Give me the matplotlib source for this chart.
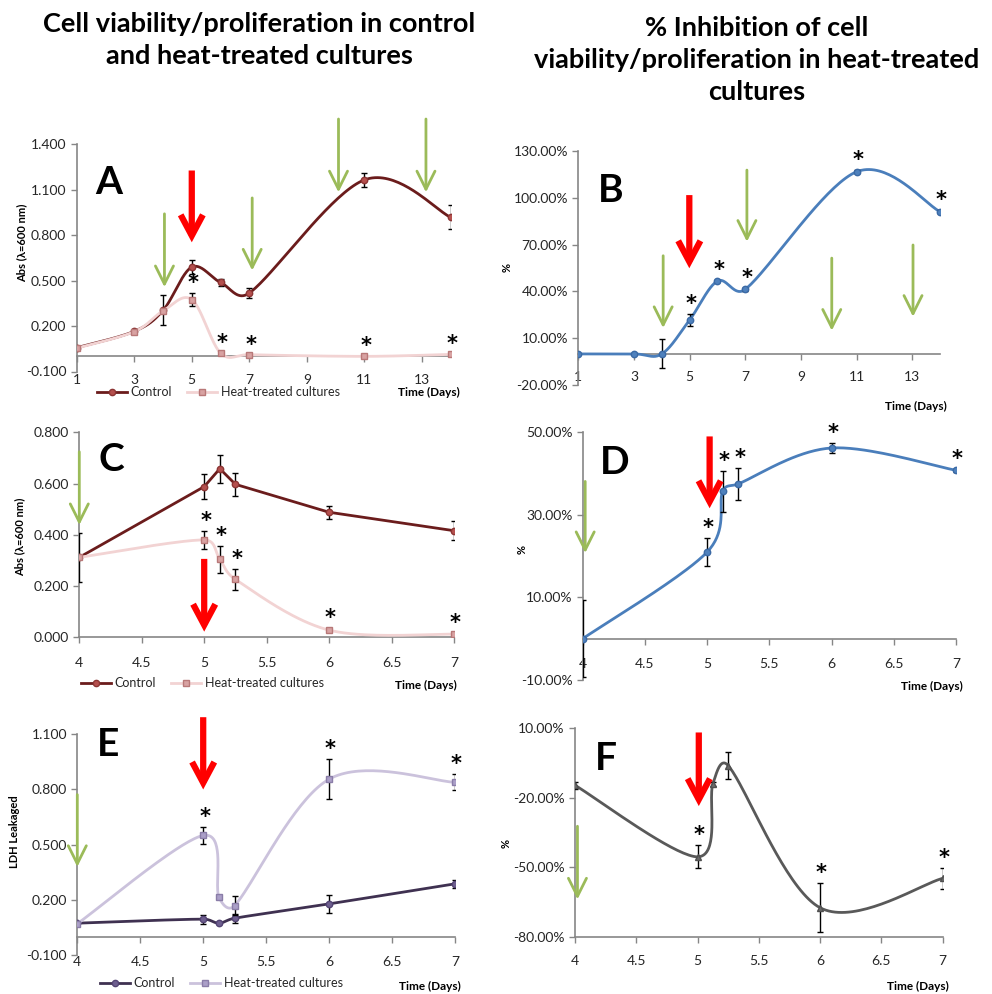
import numpy as np
import matplotlib
matplotlib.use("Agg")
from matplotlib import pyplot as plt
from matplotlib.lines import Line2D
from matplotlib.ticker import FuncFormatter

plt.rcParams['font.family'] = ['Lato', 'DejaVu Sans']

# ---- data ----
# panel A / B : days 1-14
ab_days = [1, 3, 4, 5, 6, 7, 11, 14]
a_control = [0.057, 0.165, 0.303, 0.589, 0.488, 0.418, 1.165, 0.918]
a_control_err = [0, 0, 0.099, 0.048, 0.024, 0.035, 0.045, 0.079]
a_heat = [0.054, 0.163, 0.300, 0.375, 0.022, 0.011, 0.0, 0.013]
a_heat_err = [0, 0, 0, 0.044, 0, 0, 0, 0]
a_stars = [0, 0, 0, 1, 1, 1, 1, 1]

b_inhib = [0, 0, 0, 21.7, 46.6, 41.3, 116.5, 91.0]
b_err = [0, 0, 9.3, 3.7, 0.8, 0.8, 1.0, 0.8]
b_stars = [0, 0, 0, 1, 1, 1, 1, 1]

# panels C-F : days 4-7
cf_days = [4, 5, 5.125, 5.25, 6, 7]
c_control = [0.312, 0.588, 0.658, 0.597, 0.488, 0.416]
c_control_err = [0.096, 0.048, 0.054, 0.045, 0.026, 0.036]
c_heat = [0.312, 0.380, 0.304, 0.226, 0.028, 0.012]
c_heat_err = [0, 0.036, 0.052, 0.040, 0.008, 0.004]
c_stars = [0, 1, 1, 1, 1, 1]

d_inhib = [0, 21.0, 35.7, 37.5, 46.2, 40.8]
d_err = [9.3, 3.5, 5.0, 3.9, 1.3, 0.4]
d_stars = [0, 1, 1, 1, 1, 1]

e_control = [0.073, 0.095, 0.073, 0.100, 0.178, 0.287]
e_control_err = [0, 0.025, 0.005, 0.024, 0.047, 0.023]
e_heat = [0.070, 0.550, 0.215, 0.169, 0.856, 0.839]
e_heat_err = [0, 0.048, 0.010, 0.050, 0.107, 0.044]
e_stars = [0, 1, 0, 0, 1, 1]

f_inhib = [-14.6, -45.5, -14.0, -6.1, -67.5, -54.8]
f_err = [1.5, 4.9, 1.0, 5.8, 10.6, 4.5]
f_stars = [0, 1, 0, 0, 1, 1]

# annotation arrows (day, y tail, y tip)
a_red = [(5.0, 1.227, 0.753)]
a_green = [(4.05, 0.941, 0.457), (7.1, 1.046, 0.567), (10.1, 1.567, 1.083), (13.14, 1.567, 1.083)]
b_red = [(4.99, 101.6, 54.8)]
b_green = [(4.05, 62.8, 16.6), (7.06, 117.6, 71.8), (10.11, 61.3, 14.9), (13.03, 69.7, 23.8)]
c_red = [(5.0, 0.306, 0.022)]
c_green = [(4.0, 0.724, 0.438), (7.02, 0.841, 0.497)]
d_red = [(5.02, 49.0, 31.6)]
d_green = [(4.02, 38.1, 20.75), (7.02, 27.6, 6.6)]
e_red = [(5.0, 1.193, 0.80)]
e_green = [(4.0, 0.772, 0.379)]
f_red = [(5.01, 8.2, -23.6)]
f_green = [(4.02, -32.3, -63.9)]

W, H = 992, 994
fig = plt.figure(figsize=(W / 100, H / 100), dpi=100)

GREY = '#868686'
TXT = '#262626'
RED = '#ff0000'
GREEN = '#9bbb59'


def px(x, y):
    return x / W, 1 - y / H


def make_ax(l, t, r, b):
    return fig.add_axes([l / W, 1 - b / H, (r - l) / W, (b - t) / H])


def style(ax, xlim, ylim, xticks, yticks, yfmt, zero_axis, pad):
    ax.set_xlim(*xlim)
    ax.set_ylim(*ylim)
    ax.set_xticks(xticks)
    ax.set_yticks(yticks)
    ax.patch.set_alpha(0)
    for s in ['top', 'right']:
        ax.spines[s].set_visible(False)
    for s in ['left', 'bottom']:
        ax.spines[s].set_color(GREY)
        ax.spines[s].set_linewidth(1.2)
    if zero_axis:
        ax.spines['bottom'].set_position(('data', 0))
    ax.tick_params(direction='out', length=4, width=1, color=GREY,
                   labelsize=10, labelcolor=TXT)
    ax.tick_params(axis='x', pad=pad)
    ax.yaxis.set_major_formatter(FuncFormatter(yfmt))
    ax.xaxis.set_major_formatter(FuncFormatter(lambda v, p: '%g' % v))


def _tan(a, b, seg):
    # Catmull-Rom tangent, limited so short segments do not overshoot much
    t = (b - a) / 6
    n = np.hypot(*t)
    lim = 0.5 * seg
    if n > lim and n > 0:
        t = t * lim / n
    return t


def smooth(ax, x, y, n=40):
    pts = ax.transData.transform(np.column_stack([x, y]))
    P = np.vstack([pts[0], pts, pts[-1]])
    segs = []
    t = np.linspace(0, 1, n)[:, None]
    for i in range(1, len(P) - 2):
        p0, p1, p2, p3 = P[i - 1], P[i], P[i + 1], P[i + 2]
        seg = np.hypot(*(p2 - p1))
        c1 = p1 + _tan(p0, p2, seg)
        c2 = p2 - _tan(p1, p3, seg)
        segs.append((1 - t) ** 3 * p1 + 3 * (1 - t) ** 2 * t * c1
                    + 3 * (1 - t) * t ** 2 * c2 + t ** 3 * p2)
    c = ax.transData.inverted().transform(np.vstack(segs))
    return c[:, 0], c[:, 1]


def series(ax, x, y, err, line, mfc, mec, marker, curved=True, z=3):
    if curved:
        sx, sy = smooth(ax, x, y)
    else:
        sx, sy = x, y
    ax.plot(sx, sy, color=line, lw=2, zorder=z, solid_capstyle='round')
    ax.errorbar(x, y, yerr=err, fmt='none', ecolor='black', elinewidth=1,
                capsize=2.3, capthick=1, zorder=z + 1)
    ax.plot(x, y, ls='none', marker=marker, ms=4.6, mfc=mfc, mec=mec,
            mew=1, zorder=z + 2)


def stars(ax, x, y, err, flags):
    for xi, yi, ei, f in zip(x, y, err, flags):
        if f:
            ax.annotate('*', (xi, yi + ei), xytext=(1, 0), textcoords='offset points',
                        ha='center', va='bottom', fontsize=15, fontweight='bold',
                        color='black', family='DejaVu Sans', zorder=10)


def arrows(ax, reds, greens):
    for x, y0, y1 in greens:
        ax.annotate('', xy=(x, y1), xytext=(x, y0),
                    arrowprops=dict(arrowstyle='->,head_length=1.3,head_width=0.65',
                                    color=GREEN, lw=2, shrinkA=0, shrinkB=0,
                                    clip_on=False, mutation_scale=10), zorder=8)
    for x, y0, y1 in reds:
        ax.annotate('', xy=(x, y1), xytext=(x, y0),
                    arrowprops=dict(arrowstyle='->,head_length=1.5,head_width=0.8',
                                    color=RED, lw=4.5, shrinkA=0, shrinkB=0,
                                    joinstyle='miter', capstyle='butt',
                                    clip_on=False, mutation_scale=10), zorder=8)


def letter(x, y, s):
    fig.text(*px(x, y), s, ha='center', va='center', fontsize=28,
             fontweight='bold', color='black')


def ylab(x, y, s):
    fig.text(*px(x, y), s, ha='center', va='center', rotation=90,
             fontsize=8, fontweight='bold', color='black')


def timelab(x, y):
    fig.text(*px(x, y), 'Time (Days)', ha='right', va='center', fontsize=8.5,
             fontweight='bold', color='black')


def legend(x, y, ctrl, heat):
    h = [Line2D([], [], color=ctrl[0], lw=2, marker=ctrl[3], ms=4.5, mfc=ctrl[1], mec=ctrl[2]),
         Line2D([], [], color=heat[0], lw=2, marker=heat[3], ms=4.5, mfc=heat[1], mec=heat[2])]
    fig.legend(h, ['Control', 'Heat-treated cultures'], loc='center left',
               bbox_to_anchor=px(x, y), ncol=2, frameon=False, fontsize=9,
               handlelength=2.4, handletextpad=0.3, columnspacing=1.2,
               borderpad=0, borderaxespad=0, labelcolor=TXT)


fmt3 = lambda v, p: '%.3f' % v
fmtp = lambda v, p: '%.2f%%' % v

CTRL_R = ('#6b1c1c', '#b5504e', '#8c3534', 'o')
HEAT_R = ('#f2d3d3', '#d8a2a2', '#b87878', 's')
BLUE = ('#4a7ebb', '#4f81bd', '#3b6aa5', 'o')
CTRL_P = ('#3f3151', '#6e5f8f', '#544474', 'o')
HEAT_P = ('#cbc2dc', '#ab9fc8', '#8a7da8', 's')
GRAYS = ('#595959', '#6a6a6a', '#505050', '^')

# ---- titles ----
fig.text(*px(259, 40), 'Cell viability/proliferation in control\nand heat-treated cultures',
         ha='center', va='center', fontsize=19.5, fontweight='bold', linespacing=1.38)
fig.text(*px(757, 60), '% Inhibition of cell\nviability/proliferation in heat-treated\ncultures',
         ha='center', va='center', fontsize=19.5, fontweight='bold', linespacing=1.38)

# ---- A ----
ax = make_ax(76.7, 144.3, 450.7, 371.5)
style(ax, (1, 14), (-0.1, 1.4), [1, 3, 5, 7, 9, 11, 13], np.arange(-0.1, 1.41, 0.3), fmt3, True, 8.5)
series(ax, ab_days, a_control, a_control_err, *CTRL_R, z=3)
series(ax, ab_days, a_heat, a_heat_err, *HEAT_R, z=6)
stars(ax, ab_days, a_heat, a_heat_err, a_stars)
arrows(ax, a_red, a_green)
letter(109, 183, 'A')
ylab(21.7, 243, 'Abs (\u03bb=600 nm)')
legend(97, 392, CTRL_R, HEAT_R)
timelab(460, 392)

# ---- B ----
ax = make_ax(578.3, 150.7, 940, 385.2)
style(ax, (1, 14), (-20, 130), [1, 3, 5, 7, 9, 11, 13], np.arange(-20, 131, 30), fmtp, True, 8.5)
series(ax, ab_days, b_inhib, b_err, *BLUE)
stars(ax, ab_days, b_inhib, b_err, b_stars)
arrows(ax, b_red, b_green)
letter(611, 190, 'B')
ylab(506.7, 268, '%')
timelab(947, 406)

# ---- C ----
ax = make_ax(79.3, 432.3, 454, 637.3)
style(ax, (4, 7), (0, 0.8), np.arange(4, 7.01, 0.5), np.arange(0, 0.81, 0.2), fmt3, False, 10)
series(ax, cf_days, c_control, c_control_err, *CTRL_R, curved=False, z=3)
series(ax, cf_days, c_heat, c_heat_err, *HEAT_R, z=6)
stars(ax, cf_days, c_heat, c_heat_err, c_stars)
arrows(ax, c_red, c_green)
letter(111, 459, 'C')
ylab(20, 537, 'Abs (\u03bb=600 nm)')
legend(81, 683, CTRL_R, HEAT_R)
timelab(457, 685)

# ---- D ----
ax = make_ax(582.7, 432.3, 956, 680)
style(ax, (4, 7), (-10, 50), np.arange(4, 7.01, 0.5), np.arange(-10, 51, 20), fmtp, True, 10)
series(ax, cf_days, d_inhib, d_err, *BLUE)
stars(ax, cf_days, d_inhib, d_err, d_stars)
arrows(ax, d_red, d_green)
letter(615, 462, 'D')
ylab(521.7, 550, '%')
timelab(963, 686)

# ---- E ----
ax = make_ax(77.3, 734.3, 455, 955)
style(ax, (4, 7), (-0.1, 1.1), np.arange(4, 7.01, 0.5), np.arange(-0.1, 1.11, 0.3), fmt3, True, 10)
series(ax, cf_days, e_control, e_control_err, *CTRL_P, z=3)
series(ax, cf_days, e_heat, e_heat_err, *HEAT_P, z=6)
stars(ax, cf_days, e_heat, e_heat_err, e_stars)
arrows(ax, e_red, e_green)
letter(108, 744, 'E')
ylab(15, 832, 'LDH Leakaged')
legend(100, 983, CTRL_P, HEAT_P)
timelab(461, 986)

# ---- F ----
ax = make_ax(575, 728.3, 942.7, 936.7)
style(ax, (4, 7), (-80, 10), np.arange(4, 7.01, 0.5), np.arange(-80, 11, 30), fmtp, False, 9)
series(ax, cf_days, f_inhib, f_err, *GRAYS)
stars(ax, cf_days, f_inhib, f_err, f_stars)
arrows(ax, f_red, f_green)
letter(606, 759, 'F')
ylab(506, 843, '%')
timelab(949, 986)

fig.savefig('out.png', dpi=100, facecolor='white')
